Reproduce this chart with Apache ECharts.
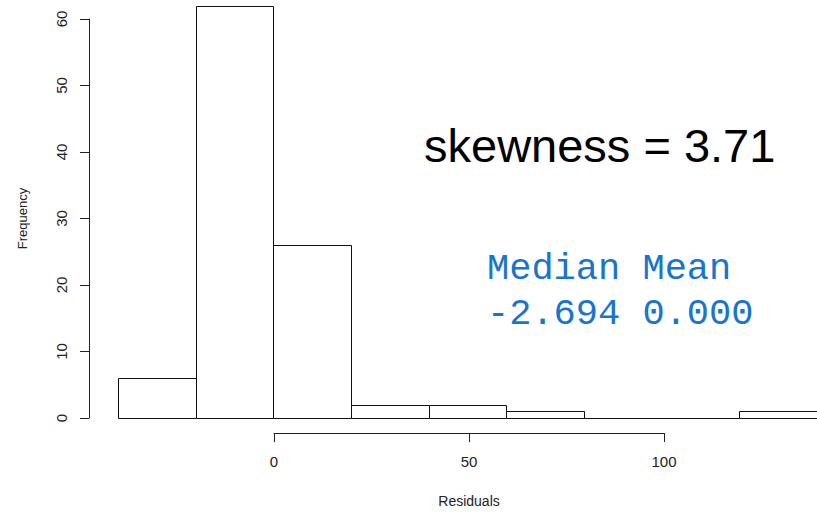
<!DOCTYPE html>
<html>
<head>
<meta charset="utf-8">
<script src="https://cdn.jsdelivr.net/npm/echarts@6/dist/echarts.min.js"></script>
<style>
html,body{margin:0;padding:0;background:#fff;}
#chart{width:817px;height:513px;}
</style>
</head>
<body>
<div id="chart"></div>
<script>
// Histogram of residuals (bin edges and counts)
const binStarts = [-40, -20, 0, 20, 40, 60, 80, 100, 120];
const binEnds   = [-20,   0, 20, 40, 60, 80, 100, 120, 140];
const counts    = [  6,  62, 26,  2,  2,  1,   0,   0,   1];
const xTicks = [0, 50, 100];
const yTicks = [0, 10, 20, 30, 40, 50, 60];
const skewText = 'skewness = 3.71';
const statHeader = 'Median Mean';
const statValues = '-2.694 0.000';

const data = binStarts.map((s, i) => [s, binEnds[i], counts[i]]);

const chart = echarts.init(document.getElementById('chart'), null, {renderer: 'svg'});
const axisCol = '#222';
const fontFam = '"Liberation Sans", Arial, sans-serif';
chart.setOption({
  animation: false,
  backgroundColor: '#fff',
  grid: [
    {left: 118, top: 19, width: 702, height: 399},
    {left: 274, top: 19, width: 390, height: 399}
  ],
  xAxis: [
    {gridIndex: 0, type: 'value', min: -40, max: 140, show: false},
    {gridIndex: 1, type: 'value', min: xTicks[0], max: xTicks[xTicks.length-1], interval: 50,
     position: 'bottom', offset: 17,
     axisLine: {show: true, onZero: false, lineStyle: {color: axisCol, width: 1}},
     axisTick: {show: true, length: 9, inside: false, lineStyle: {color: axisCol}},
     axisLabel: {show: true, margin: 21, color: '#222', fontSize: 15, fontFamily: fontFam},
     splitLine: {show: false},
     name: 'Residuals', nameLocation: 'middle', nameGap: 61,
     nameTextStyle: {color: '#222', fontSize: 14, fontFamily: fontFam}}
  ],
  yAxis: [
    {gridIndex: 0, type: 'value', min: yTicks[0], max: yTicks[yTicks.length-1], interval: 10,
     position: 'left', offset: 29,
     axisLine: {show: true, onZero: false, lineStyle: {color: axisCol, width: 1}},
     axisTick: {show: true, length: 9, inside: false, lineStyle: {color: axisCol}},
     axisLabel: {show: true, rotate: 90, margin: 20, color: '#222', fontSize: 15, fontFamily: fontFam},
     splitLine: {show: false},
     name: 'Frequency', nameLocation: 'middle', nameGap: 60,
     nameTextStyle: {color: '#222', fontSize: 13, fontFamily: fontFam}},
    {gridIndex: 1, type: 'value', min: 0, max: 60, show: false}
  ],
  series: [{
    type: 'custom',
    xAxisIndex: 0,
    yAxisIndex: 0,
    clip: false,
    data: data,
    renderItem: function (params, api) {
      const p0 = api.coord([api.value(0), 0]);
      const p1 = api.coord([api.value(1), api.value(2)]);
      const x0 = Math.round(p0[0]) + 0.5, x1 = Math.round(p1[0]) + 0.5;
      const yb = Math.round(p0[1]) + 0.5, yt = Math.round(p1[1]) + 0.5;
      return {
        type: 'polygon',
        shape: {points: [[x0, yb], [x0, yt], [x1, yt], [x1, yb]]},
        style: {fill: '#fff', stroke: '#111', lineWidth: 1}
      };
    }
  }],
  graphic: [
    {type: 'text', left: 424, top: 122, style: {text: skewText, fill: '#000', font: '47px "Liberation Sans", Arial, sans-serif'}},
    {type: 'text', left: 487, top: 250, style: {text: statHeader, fill: '#1874CD', font: '37px "Liberation Mono", "Courier New", monospace'}},
    {type: 'text', left: 487, top: 295, style: {text: statValues, fill: '#1874CD', font: '37px "Liberation Mono", "Courier New", monospace'}}
  ]
});
</script>
</body>
</html>
